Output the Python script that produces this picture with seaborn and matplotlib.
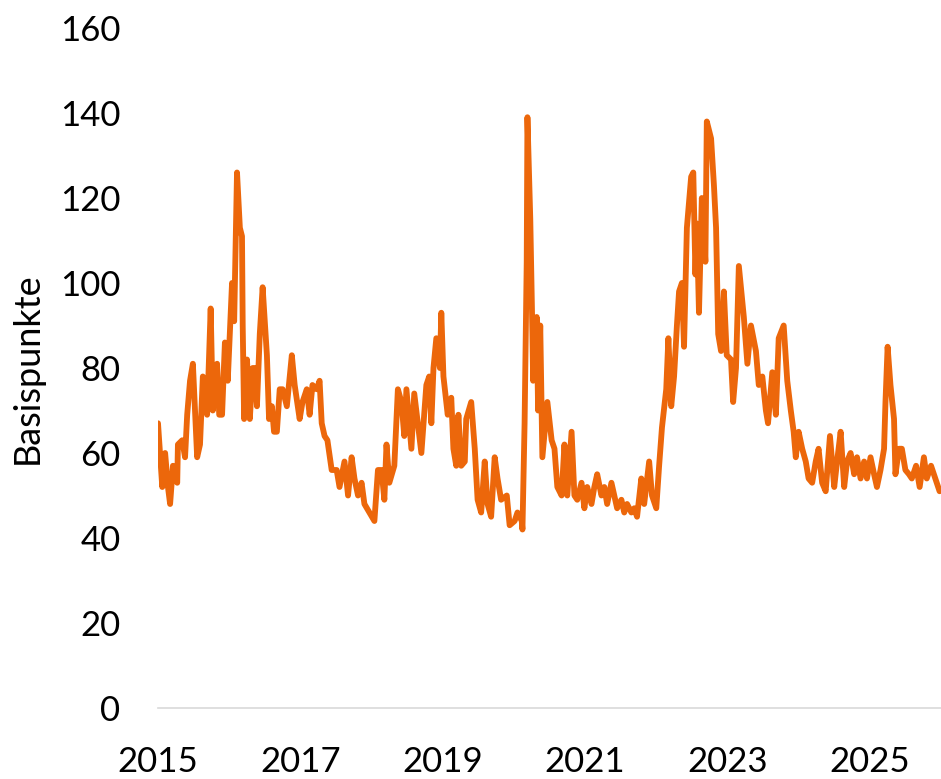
import matplotlib
matplotlib.use("Agg")
import matplotlib.pyplot as plt
import seaborn as sns

# Zeitpunkte (Dezimaljahre) und Werte in Basispunkten
jahre = [
    2015.00, 2015.06, 2015.10, 2015.14, 2015.17, 2015.21, 2015.27, 2015.28, 2015.34, 2015.38,
    2015.41, 2015.45, 2015.49, 2015.55, 2015.59, 2015.63, 2015.69, 2015.74, 2015.77, 2015.83,
    2015.86, 2015.90, 2015.94, 2015.98, 2016.04, 2016.07, 2016.11, 2016.15, 2016.18, 2016.19,
    2016.21, 2016.25, 2016.29, 2016.33, 2016.36, 2016.39, 2016.43, 2016.47, 2016.53, 2016.56,
    2016.60, 2016.63, 2016.67, 2016.71, 2016.75, 2016.81, 2016.88, 2016.92, 2016.99, 2017.03,
    2017.09, 2017.13, 2017.17, 2017.23, 2017.27, 2017.30, 2017.34, 2017.38, 2017.44, 2017.51,
    2017.55, 2017.62, 2017.67, 2017.72, 2017.76, 2017.81, 2017.86, 2017.90, 2017.97, 2018.04,
    2018.09, 2018.14, 2018.18, 2018.21, 2018.25, 2018.32, 2018.37, 2018.42, 2018.46, 2018.49,
    2018.56, 2018.60, 2018.65, 2018.70, 2018.77, 2018.81, 2018.84, 2018.87, 2018.91, 2018.96,
    2018.98, 2019.01, 2019.07, 2019.12, 2019.15, 2019.19, 2019.22, 2019.26, 2019.31, 2019.33,
    2019.40, 2019.45, 2019.49, 2019.54, 2019.59, 2019.63, 2019.68, 2019.73, 2019.77, 2019.82,
    2019.90, 2019.94, 2020.01, 2020.05, 2020.11, 2020.12, 2020.15, 2020.18, 2020.19, 2020.23,
    2020.26, 2020.27, 2020.32, 2020.34, 2020.37, 2020.40, 2020.47, 2020.53, 2020.57, 2020.61,
    2020.67, 2020.71, 2020.75, 2020.81, 2020.85, 2020.89, 2020.95, 2020.99, 2021.03, 2021.09,
    2021.13, 2021.17, 2021.23, 2021.27, 2021.31, 2021.37, 2021.41, 2021.45, 2021.51, 2021.55,
    2021.59, 2021.65, 2021.69, 2021.73, 2021.79, 2021.83, 2021.90, 2021.94, 2022.00, 2022.04,
    2022.08, 2022.14, 2022.17, 2022.21, 2022.25, 2022.29, 2022.32, 2022.36, 2022.39, 2022.43,
    2022.49, 2022.52, 2022.55, 2022.57, 2022.60, 2022.64, 2022.69, 2022.71, 2022.77, 2022.81,
    2022.84, 2022.87, 2022.91, 2022.95, 2022.99, 2023.05, 2023.08, 2023.12, 2023.16, 2023.23,
    2023.28, 2023.33, 2023.40, 2023.44, 2023.49, 2023.54, 2023.57, 2023.63, 2023.68, 2023.72,
    2023.79, 2023.84, 2023.89, 2023.93, 2023.96, 2024.00, 2024.05, 2024.10, 2024.14, 2024.19,
    2024.24, 2024.28, 2024.33, 2024.38, 2024.44, 2024.50, 2024.54, 2024.59, 2024.64, 2024.68,
    2024.73, 2024.78, 2024.82, 2024.87, 2024.92, 2024.96, 2025.01, 2025.06, 2025.10, 2025.15,
    2025.20, 2025.22, 2025.25, 2025.29, 2025.34, 2025.36, 2025.41, 2025.45, 2025.50, 2025.55,
    2025.59, 2025.65, 2025.70, 2025.76, 2025.80, 2025.86, 2025.90, 2025.94, 2025.98,
]
basispunkte = [
    67, 52, 60, 52, 48, 57, 53, 62, 63, 59,
    69, 77, 81, 59, 62, 78, 69, 94, 70, 81,
    69, 69, 86, 77, 100, 91, 126, 113, 111, 90,
    68, 82, 68, 80, 80, 71, 88, 99, 83, 68,
    71, 65, 65, 75, 75, 71, 83, 76, 68, 72,
    75, 69, 76, 75, 77, 67, 64, 63, 56, 56,
    52, 58, 50, 59, 54, 50, 53, 48, 46, 44,
    56, 56, 49, 62, 53, 57, 75, 72, 64, 75,
    61, 74, 67, 60, 76, 78, 67, 80, 87, 80,
    93, 78, 69, 73, 61, 57, 69, 57, 58, 68,
    72, 61, 49, 46, 58, 48, 45, 59, 54, 49,
    50, 43, 44, 46, 44, 42, 67, 105, 139, 115,
    88, 77, 92, 70, 90, 59, 72, 63, 61, 52,
    50, 62, 50, 65, 50, 49, 53, 47, 52, 48,
    52, 55, 50, 52, 48, 53, 50, 47, 49, 46,
    48, 46, 47, 45, 54, 48, 58, 50, 47, 57,
    66, 75, 87, 71, 78, 90, 98, 100, 85, 113,
    125, 126, 102, 114, 93, 120, 105, 138, 134, 123,
    113, 88, 84, 98, 83, 82, 72, 80, 104, 92,
    81, 90, 84, 76, 78, 70, 67, 79, 69, 87,
    90, 77, 70, 65, 59, 65, 61, 58, 54, 53,
    58, 61, 53, 51, 64, 52, 58, 65, 52, 58,
    60, 55, 59, 54, 58, 54, 59, 55, 52, 56,
    61, 72, 85, 76, 68, 55, 61, 61, 56, 55,
    54, 57, 52, 59, 54, 57, 55, 53, 51,
]

y_ticks = [0, 20, 40, 60, 80, 100, 120, 140, 160]
x_ticks = [2015, 2017, 2019, 2021, 2023, 2025]
x_labels = ["2015", "2017", "2019", "2021", "2023", "2025"]

sns.set_style("white")
plt.rcParams["font.family"] = ["Lato", "DejaVu Sans"]

fig = plt.figure(figsize=(9.41, 7.79), dpi=100)
ax = fig.add_axes([158 / 941, 71 / 779, 783 / 941, 680 / 779])

sns.lineplot(x=jahre, y=basispunkte, ax=ax, color="#EC670B", linewidth=4.2,
             estimator=None)

ax.set_xlim(2015, 2026)
ax.set_ylim(0, 160)
ax.set_yticks(y_ticks)
ax.set_xticks(x_ticks)
ax.set_xticklabels(x_labels)

for side in ["top", "right", "left"]:
    ax.spines[side].set_visible(False)
ax.spines["bottom"].set_color("#D9D9D9")
ax.spines["bottom"].set_linewidth(1.2)

ax.tick_params(axis="y", length=0, pad=27, labelsize=25, colors="black")
ax.tick_params(axis="x", length=0, pad=27, labelsize=25, colors="black")
ax.set_ylabel("Basispunkte", fontsize=26, color="black")
ax.yaxis.set_label_coords(-0.146, 0.5)
ax.set_xlabel("")

fig.savefig("out.png", dpi=100)
